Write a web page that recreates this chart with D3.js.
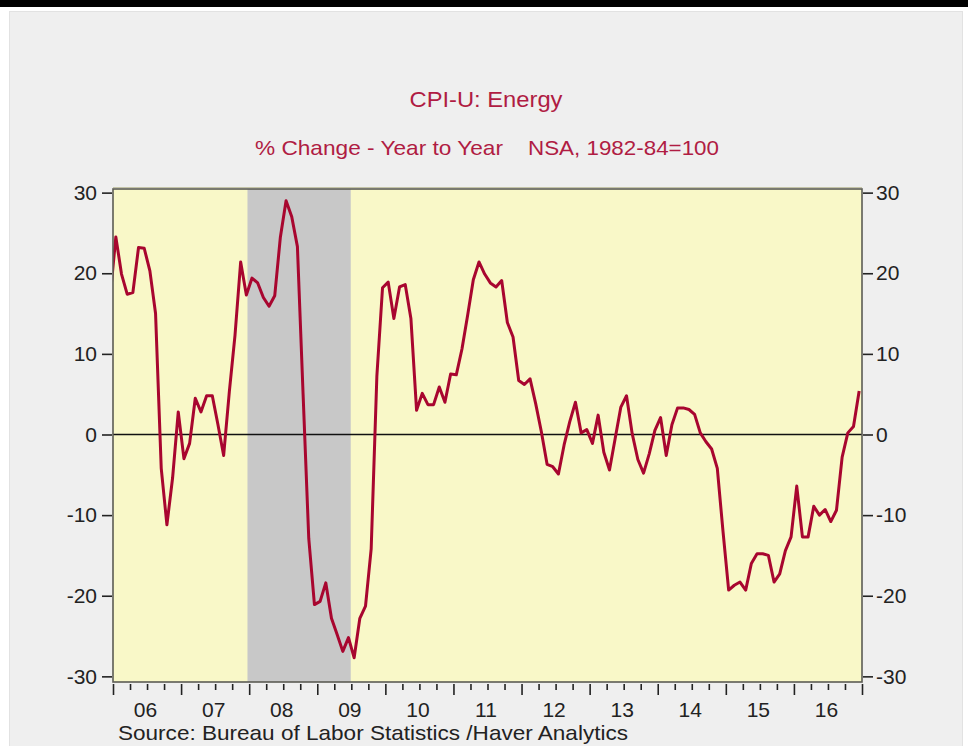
<html>
    <head>
        <script src="https://d3js.org/d3.v7.min.js"></script>
        <style>
            body { margin: 0; background: #ffffff; }
            text { font-family: "Liberation Sans", Arial, sans-serif; }
        </style>
    </head>
    <body>
        <svg id="svg" width="968" height="746"></svg>
        <script>
            // CPI-U energy, % change year to year, monthly (Dec 2005 - Dec 2016)
            var dec2005 = [17.1];
            var y2006 = [24.5, 19.9, 17.4, 17.6, 23.2, 23.1, 20.3, 15.0, -4.2, -11.2, -5.4, 2.8];
            var y2007 = [-3.0, -1.1, 4.5, 2.8, 4.8, 4.8, 1.2, -2.6, 5.3, 12.3, 21.4, 17.3];
            var y2008 = [19.4, 18.8, 17.0, 15.9, 17.2, 24.5, 29.0, 27.0, 23.3, 5.0, -12.9, -21.1];
            var y2009 = [-20.7, -18.4, -22.8, -24.8, -26.9, -25.2, -27.7, -22.8, -21.3, -14.2, 7.2, 18.2];
            var y2010 = [18.9, 14.4, 18.3, 18.6, 14.4, 3.0, 5.1, 3.7, 3.7, 5.9, 4.0, 7.5];
            var y2011 = [7.4, 10.6, 14.8, 19.2, 21.4, 19.9, 18.8, 18.3, 19.1, 13.9, 12.1, 6.7];
            var y2012 = [6.2, 6.9, 3.8, 0.3, -3.7, -4.0, -4.9, -1.3, 1.6, 4.0, 0.2, 0.6];
            var y2013 = [-1.1, 2.4, -2.2, -4.4, -0.5, 3.4, 4.8, 0.1, -3.1, -4.8, -2.4, 0.5];
            var y2014 = [2.1, -2.6, 1.2, 3.3, 3.3, 3.1, 2.5, 0.2, -0.9, -1.8, -4.2, -12.0];
            var y2015 = [-19.3, -18.7, -18.3, -19.3, -16.0, -14.8, -14.8, -15.0, -18.3, -17.3, -14.4, -12.7];
            var y2016 = [-6.4, -12.7, -12.7, -8.9, -10.0, -9.3, -10.8, -9.4, -2.8, 0.2, 1.0, 5.4];

            var years = [2006, 2007, 2008, 2009, 2010, 2011, 2012, 2013, 2014, 2015, 2016];
            var yTicks = [-30, -20, -10, 0, 10, 20, 30];
            var recession = [2007 + 11.7 / 12, 2009 + 5.9 / 12];

            var titleText = "CPI-U: Energy";
            var subLeft = "% Change - Year to Year";
            var subRight = "NSA, 1982-84=100";
            var sourceText = "Source:  Bureau of Labor Statistics /Haver Analytics";

            var red = "#a8062f";
            var textRed = "#b01c43";

            // monthly series, points at mid-month
            var values = dec2005.concat(y2006, y2007, y2008, y2009, y2010, y2011,
                                        y2012, y2013, y2014, y2015, y2016);
            var series = values.map(function(v, i){
                var m = i + 11; // months since Jan 2005
                return {t: 2005 + (m + 0.5) / 12, v: v};
            });

            var svg = d3.select("svg");
            var pLeft = 113, pRight = 862, pTop = 189, pBottom = 682;

            var x = d3.scaleLinear().domain([2006, 2017]).range([pLeft, pRight]);
            var y = d3.scaleLinear().domain([-30.7, 30.45]).range([pBottom, pTop]);

            // page frame
            svg.append("rect").attr("x", 0).attr("y", 0).attr("width", 968).attr("height", 7)
               .attr("fill", "#000");
            svg.append("rect").attr("x", 9.5).attr("y", 11.5).attr("width", 953).attr("height", 740)
               .attr("fill", "#efefef").attr("stroke", "#e2e2e2");

            // titles
            svg.append("text").attr("x", 486).attr("y", 107).attr("text-anchor", "middle")
               .attr("font-size", 22).attr("fill", textRed)
               .attr("textLength", 153).attr("lengthAdjust", "spacingAndGlyphs")
               .text(titleText);
            svg.append("text").attr("x", 255).attr("y", 155)
               .attr("font-size", 21).attr("fill", textRed)
               .attr("textLength", 248).attr("lengthAdjust", "spacingAndGlyphs")
               .text(subLeft);
            svg.append("text").attr("x", 528).attr("y", 155)
               .attr("font-size", 21).attr("fill", textRed)
               .attr("textLength", 191).attr("lengthAdjust", "spacingAndGlyphs")
               .text(subRight);

            // plot background + recession band
            svg.append("rect").attr("x", pLeft).attr("y", pTop)
               .attr("width", pRight - pLeft).attr("height", pBottom - pTop)
               .attr("fill", "#f9f8c8");
            svg.append("rect").attr("x", x(recession[0])).attr("y", pTop)
               .attr("width", x(recession[1]) - x(recession[0])).attr("height", pBottom - pTop)
               .attr("fill", "#c8c8c8");

            svg.append("clipPath").attr("id", "clip")
               .append("rect").attr("x", pLeft).attr("y", pTop)
               .attr("width", pRight - pLeft).attr("height", pBottom - pTop);

            // zero line
            svg.append("line").attr("x1", pLeft).attr("x2", pRight)
               .attr("y1", y(0)).attr("y2", y(0))
               .attr("stroke", "#111").attr("stroke-width", 1.5);

            var line = d3.line().x(function(d){ return x(d.t); }).y(function(d){ return y(d.v); });
            svg.append("path").datum(series)
               .attr("clip-path", "url(#clip)")
               .attr("d", line)
               .attr("fill", "none")
               .attr("stroke", red)
               .attr("stroke-width", 3)
               .attr("stroke-linejoin", "round");

            // plot frame
            svg.append("rect").attr("x", pLeft).attr("y", pTop)
               .attr("width", pRight - pLeft).attr("height", pBottom - pTop)
               .attr("fill", "none").attr("stroke", "#5c5c54").attr("stroke-width", 1.6);
            svg.append("line").attr("x1", pLeft).attr("x2", pRight)
               .attr("y1", pTop - 1.5).attr("y2", pTop - 1.5)
               .attr("stroke", "#c4c4a8").attr("stroke-width", 1.2);

            var fmt = function(d){ return String(d); };

            // y axes
            var gl = svg.append("g").attr("transform", "translate(" + (pLeft - 1) + ",0)")
               .call(d3.axisLeft(y).tickValues(yTicks).tickSize(10).tickPadding(5).tickFormat(fmt));
            var gr = svg.append("g").attr("transform", "translate(" + (pRight + 1) + ",0)")
               .call(d3.axisRight(y).tickValues(yTicks).tickSize(10).tickPadding(3).tickFormat(fmt));
            [gl, gr].forEach(function(g){
                g.select(".domain").remove();
                g.selectAll("line").attr("stroke", "#222").attr("stroke-width", 1.6);
                g.selectAll("text").attr("font-size", 21).attr("fill", "#222")
                 .attr("font-family", "'Liberation Sans', Arial, sans-serif");
            });

            // x axis: quarterly minor ticks, yearly major ticks, labels mid-year
            var quarters = d3.range(0, 45).map(function(i){ return 2006 + i / 4; })
                             .filter(function(d){ return d % 1 !== 0; });
            var gq = svg.append("g").attr("transform", "translate(0," + (pBottom + 2) + ")")
               .call(d3.axisBottom(x).tickValues(quarters).tickSize(6).tickFormat(""));
            var gy = svg.append("g").attr("transform", "translate(0," + (pBottom + 2) + ")")
               .call(d3.axisBottom(x).tickValues(years.concat([2017])).tickSize(11).tickFormat(""));
            var gt = svg.append("g").attr("transform", "translate(0," + (pBottom + 2) + ")")
               .call(d3.axisBottom(x).tickValues(years.map(function(d){ return d + 0.5; }))
                     .tickSize(0).tickPadding(18)
                     .tickFormat(function(d){ return d3.format("02d")(Math.floor(d) % 100); }));
            [gq, gy, gt].forEach(function(g){
                g.select(".domain").remove();
                g.selectAll("line").attr("stroke", "#222").attr("stroke-width", 1.6);
            });
            gt.selectAll("text").attr("font-size", 21).attr("fill", "#222").attr("dx", -2)
              .attr("font-family", "'Liberation Sans', Arial, sans-serif");

            // source
            svg.append("text").attr("x", 118).attr("y", 740)
               .attr("font-size", 21).attr("fill", "#222")
               .attr("textLength", 510).attr("lengthAdjust", "spacingAndGlyphs")
               .text(sourceText);
        </script>
    </body>
</html>
